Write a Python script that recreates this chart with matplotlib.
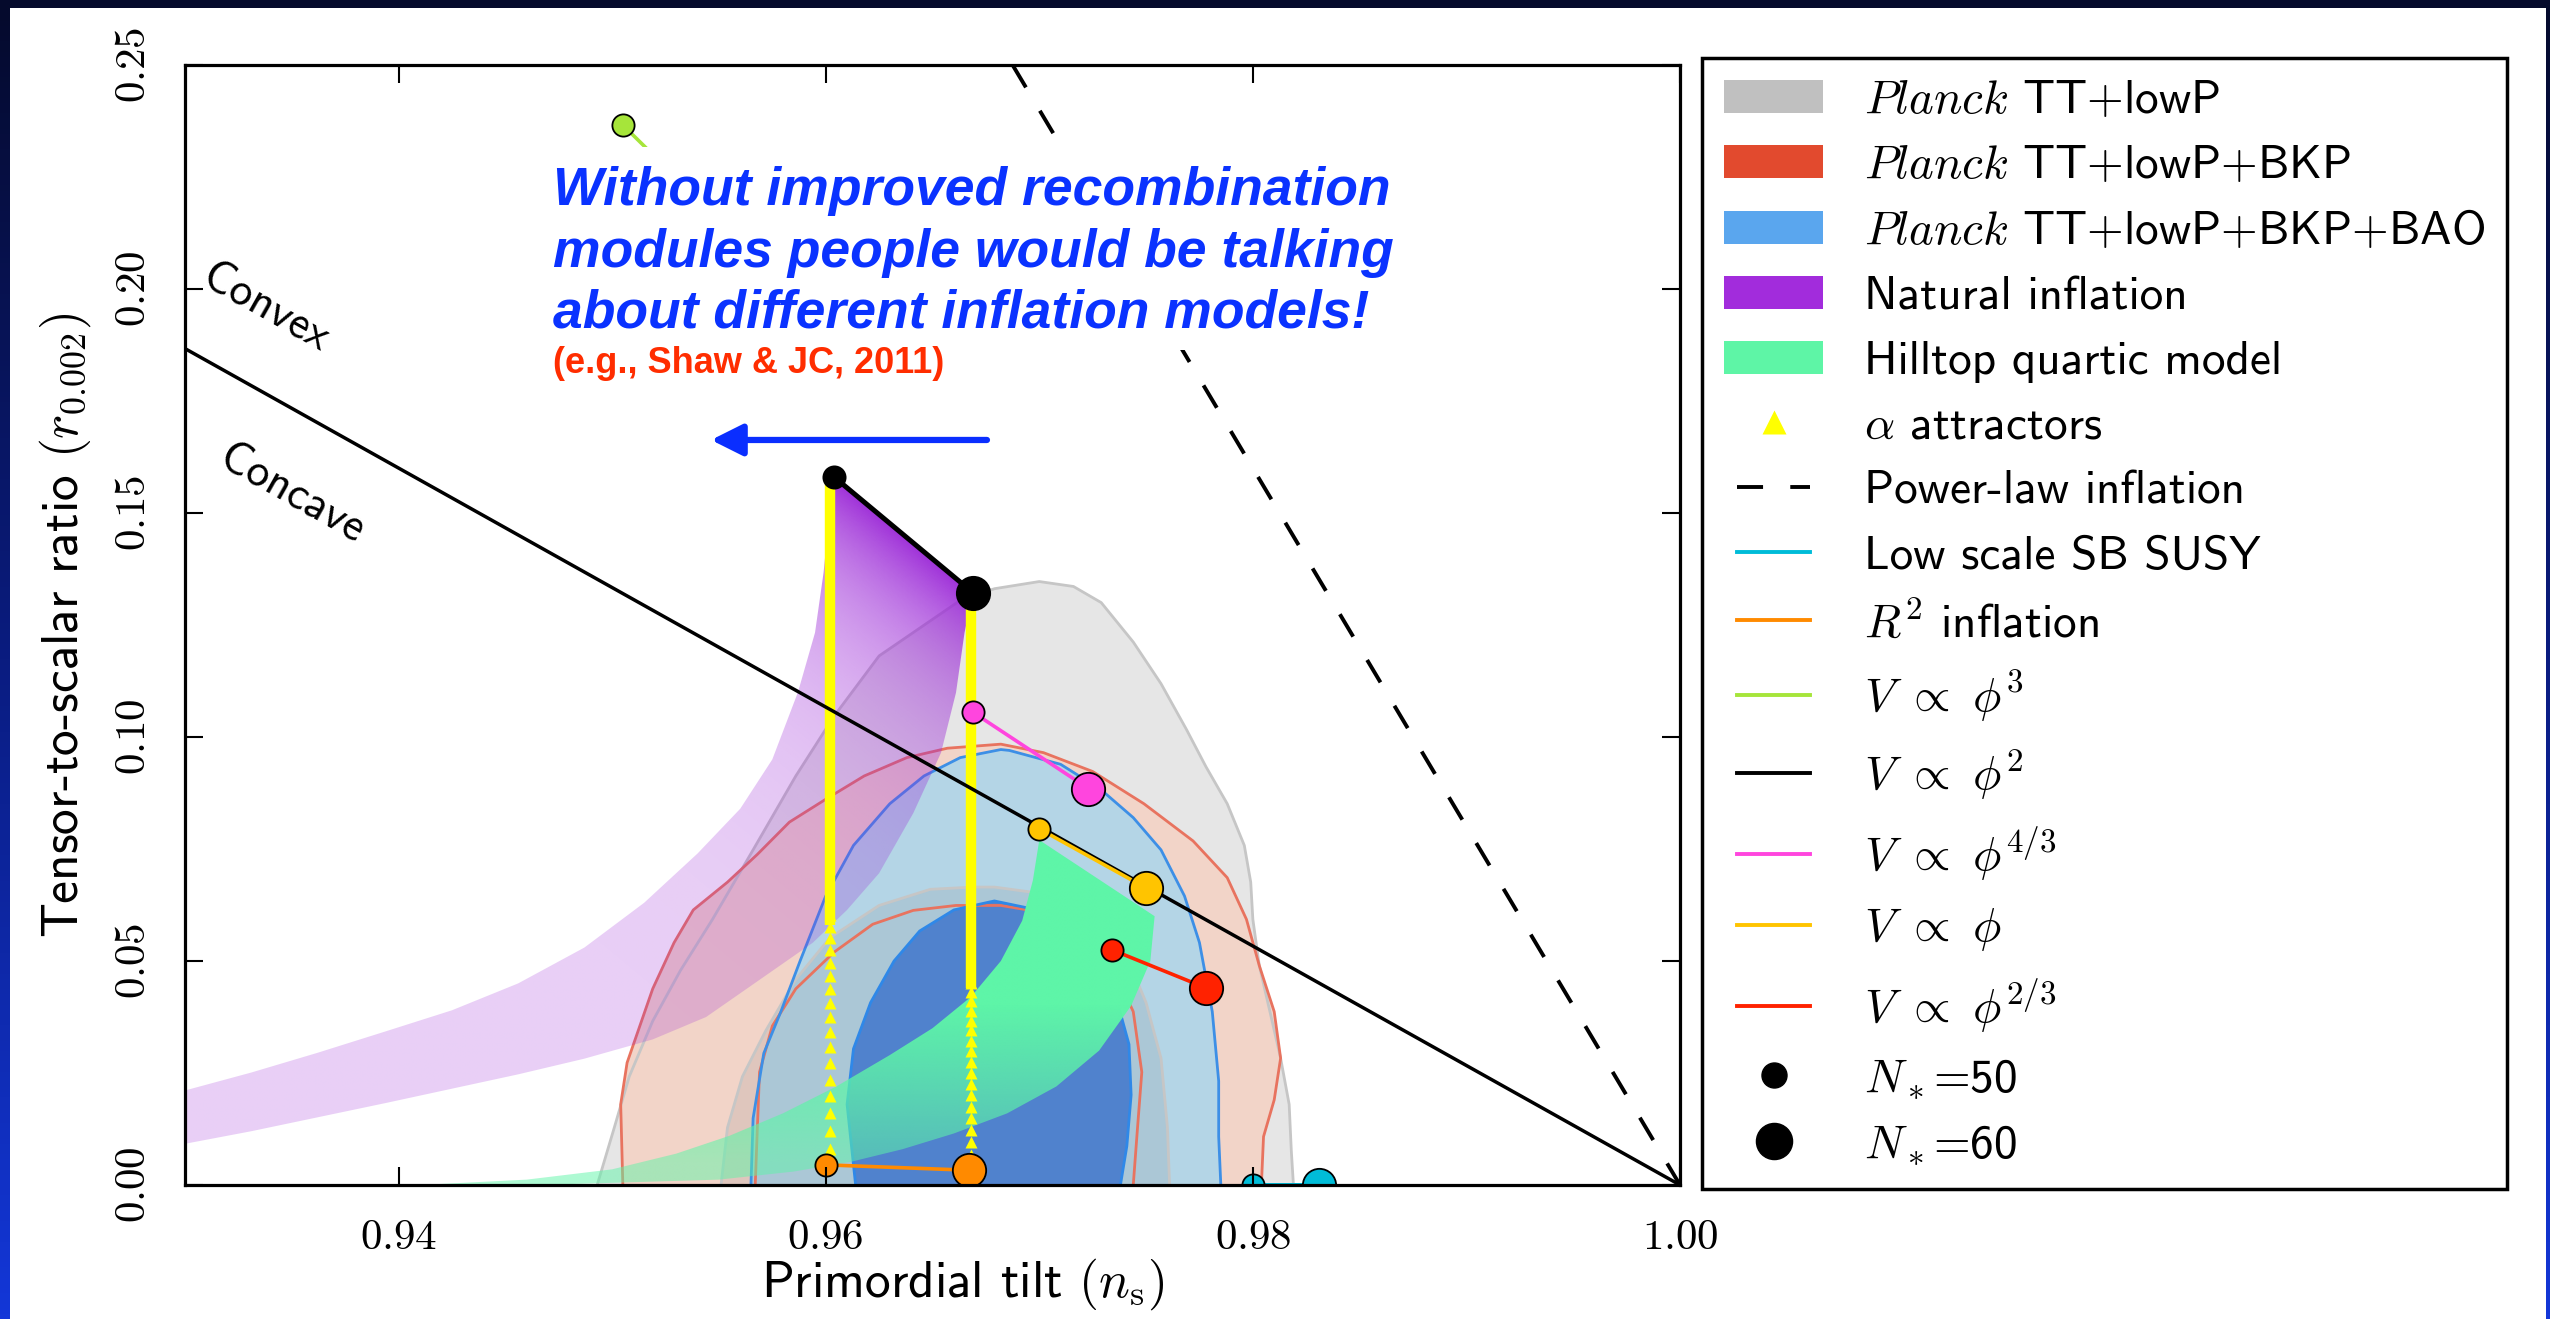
import numpy as np
import matplotlib
matplotlib.use("Agg")
import matplotlib.pyplot as plt
from matplotlib.patches import Polygon, Rectangle, Patch
from matplotlib.lines import Line2D
from matplotlib.legend_handler import HandlerLine2D
from matplotlib.colors import LinearSegmentedColormap, to_rgb

plt.rcParams["mathtext.fontset"] = "cm"
plt.rcParams["axes.unicode_minus"] = False

# ------------------------------------------------------------------ data
x_ticks = [0.94, 0.96, 0.98, 1.00]
y_ticks = [0.00, 0.05, 0.10, 0.15, 0.20, 0.25]

# Planck TT+lowP (grey) 95% / 68% boundaries
gray95_ns = [0.9493, 0.9501, 0.9508, 0.9519, 0.9532, 0.9547, 0.9566, 0.9586, 0.9604, 0.9625,
             0.9663, 0.9679, 0.9700, 0.9716, 0.9729, 0.9744, 0.9757, 0.9769, 0.9778, 0.9788,
             0.9796, 0.9799, 0.9800, 0.9803, 0.9808, 0.9813, 0.9817, 0.9818, 0.9819]
gray95_r = [0.0, 0.0128, 0.0242, 0.0366, 0.0479, 0.0593, 0.0748, 0.0913, 0.1047, 0.1181,
            0.1305, 0.1331, 0.1347, 0.1336, 0.1300, 0.1212, 0.1119, 0.1016, 0.0934, 0.0851,
            0.0758, 0.0676, 0.0593, 0.0490, 0.0387, 0.0283, 0.0180, 0.0077, 0.0]
gray68_ns = [0.9551, 0.9554, 0.9561, 0.9572, 0.9586, 0.9602, 0.9625, 0.9649, 0.9669, 0.9679,
             0.9702, 0.9725, 0.9741, 0.9750, 0.9757, 0.9760, 0.9761]
gray68_r = [0.0, 0.0128, 0.0242, 0.0345, 0.0459, 0.0552, 0.0624, 0.0660, 0.0665, 0.0665,
            0.0650, 0.0603, 0.0510, 0.0407, 0.0283, 0.0128, 0.0]

# Planck TT+lowP+BKP (red)
red95_ns = [0.9505, 0.9504, 0.9507, 0.9519, 0.9529, 0.9538, 0.9554, 0.9568, 0.9583, 0.9600,
            0.9618, 0.9638, 0.9657, 0.9682, 0.9702, 0.9725, 0.9749, 0.9772, 0.9788, 0.9797,
            0.9803, 0.9810, 0.9813, 0.9810, 0.9805, 0.9804]
red95_r = [0.0, 0.0180, 0.0273, 0.0438, 0.0541, 0.0614, 0.0676, 0.0738, 0.0810, 0.0861,
           0.0913, 0.0954, 0.0975, 0.0984, 0.0965, 0.0923, 0.0851, 0.0768, 0.0686, 0.0593,
           0.0490, 0.0387, 0.0283, 0.0190, 0.0108, 0.0]
red68_ns = [0.9567, 0.9568, 0.9569, 0.9575, 0.9586, 0.9604, 0.9622, 0.9641, 0.9661, 0.9682,
            0.9702, 0.9722, 0.9736, 0.9744, 0.9748, 0.9746, 0.9744]
red68_r = [0.0, 0.0128, 0.0252, 0.0355, 0.0438, 0.0520, 0.0582, 0.0613, 0.0624, 0.0624,
           0.0608, 0.0552, 0.0469, 0.0387, 0.0252, 0.0128, 0.0]

# Planck TT+lowP+BKP+BAO (blue)
blue95_ns = [0.9565, 0.9566, 0.9571, 0.9579, 0.9588, 0.9600, 0.9613, 0.9630, 0.9646, 0.9663,
             0.9682, 0.9686, 0.9710, 0.9729, 0.9744, 0.9757, 0.9768, 0.9775, 0.9781, 0.9784,
             0.9784, 0.9785]
blue95_r = [0.0, 0.0149, 0.0294, 0.0387, 0.0500, 0.0645, 0.0758, 0.0851, 0.0913, 0.0954,
            0.0972, 0.0970, 0.0939, 0.0882, 0.0820, 0.0748, 0.0645, 0.0541, 0.0387, 0.0232,
            0.0108, 0.0]
blue68_ns = [0.9614, 0.9610, 0.9613, 0.9621, 0.9632, 0.9644, 0.9660, 0.9677, 0.9679, 0.9694,
             0.9710, 0.9725, 0.9736, 0.9742, 0.9743, 0.9741, 0.9738]
blue68_r = [0.0, 0.0180, 0.0304, 0.0407, 0.0500, 0.0567, 0.0614, 0.0632, 0.0634, 0.0619,
            0.0583, 0.0500, 0.0418, 0.0314, 0.0201, 0.0087, 0.0]

# Natural inflation band (left edge bottom->top, right edge top->bottom)
natural_left_ns = [0.9300, 0.9331, 0.9362, 0.9394, 0.9425, 0.9456, 0.9487, 0.9515, 0.9540,
                   0.9560, 0.9575, 0.9587, 0.9595, 0.9599, 0.9602, 0.9604]
natural_left_r = [0.0211, 0.0251, 0.0295, 0.0343, 0.0390, 0.0450, 0.0530, 0.0630, 0.0740,
                  0.0840, 0.0950, 0.1100, 0.1233, 0.1367, 0.1512, 0.1580]
natural_right_ns = [0.9669, 0.9665, 0.9661, 0.9654, 0.9641, 0.9625, 0.9610, 0.9594, 0.9563,
                    0.9544, 0.9519, 0.9487, 0.9456, 0.9425, 0.9394, 0.9362, 0.9331, 0.9300]
natural_right_r = [0.1322, 0.1233, 0.1099, 0.0965, 0.0830, 0.0696, 0.0614, 0.0541, 0.0438,
                   0.0375, 0.0325, 0.0282, 0.0247, 0.0215, 0.0183, 0.0151, 0.0120, 0.0092]

# Hilltop quartic band (upper edge bottom->top, lower edge top->bottom)
hilltop_upper_ns = [0.9410, 0.9460, 0.9500, 0.9530, 0.9555, 0.9580, 0.9605, 0.9630, 0.9650,
                    0.9668, 0.9682, 0.9692, 0.9697, 0.9700]
hilltop_upper_r = [0.0, 0.0012, 0.0035, 0.0070, 0.0110, 0.0160, 0.0220, 0.0290, 0.0350,
                   0.0420, 0.0500, 0.0590, 0.0680, 0.0770]
hilltop_lower_ns = [0.9754, 0.9752, 0.9743, 0.9728, 0.9708, 0.9685, 0.9660, 0.9636, 0.9612,
                    0.9585, 0.9550, 0.9480, 0.9410]
hilltop_lower_r = [0.0600, 0.0500, 0.0400, 0.0300, 0.0220, 0.0160, 0.0115, 0.0080, 0.0052,
                   0.0030, 0.0012, 0.0002, 0.0]

# alpha attractors: individually visible points and the dense upper part
alpha_ns = [0.9602, 0.9668]
alpha_r50 = [0.0080, 0.0120, 0.0160, 0.0198, 0.0235, 0.0272, 0.0307, 0.0341, 0.0374, 0.0406,
             0.0437, 0.0467, 0.0496, 0.0524, 0.0551, 0.0577, 0.0602]
alpha_r60 = [0.0068, 0.0095, 0.0122, 0.0149, 0.0175, 0.0201, 0.0226, 0.0251, 0.0275, 0.0299,
             0.0322, 0.0345, 0.0367, 0.0389, 0.0410, 0.0431, 0.0451]
alpha_dense_start = [0.0580, 0.0440]

# model predictions (N*=50, N*=60)
model_keys = ["R2", "phi3", "phi2", "phi43", "phi1", "phi23", "susy"]
model_ns50 = [0.9600, 0.9505, 0.9604, 0.9669, 0.9700, 0.9734, 0.9800]
model_r50 = [0.0045, 0.2366, 0.1580, 0.1055, 0.0795, 0.0525, 0.0000]
model_ns60 = [0.9667, 0.9583, 0.9669, 0.9723, 0.9750, 0.9778, 0.9831]
model_r60 = [0.0033, 0.2000, 0.1322, 0.0885, 0.0663, 0.0440, 0.0000]

# straight reference lines
convex_ns = [0.93, 1.00]
convex_r = [0.1867, 0.0]
powerlaw_ns = [0.96875, 1.00]
powerlaw_r = [0.25, 0.0]

legend_labels = [r"$\mathit{Planck}$ TT+lowP", r"$\mathit{Planck}$ TT+lowP+BKP",
                 r"$\mathit{Planck}$ TT+lowP+BKP+BAO", "Natural inflation",
                 "Hilltop quartic model", r"$\alpha$ attractors", "Power-law inflation",
                 "Low scale SB SUSY", r"$R^2$ inflation", r"$V\ \propto\ \phi^3$",
                 r"$V\ \propto\ \phi^2$", r"$V\ \propto\ \phi^{4/3}$", r"$V\ \propto\ \phi$",
                 r"$V\ \propto\ \phi^{2/3}$", r"$N_*$=50", r"$N_*$=60"]

note_lines = ["Without improved recombination", "modules people would be talking",
              "about different inflation models!"]
note_ref = "(e.g., Shaw & JC, 2011)"

# ------------------------------------------------------------------ figure
fig = plt.figure(figsize=(25.5, 13.19), dpi=100)

bg = fig.add_axes([0, 0, 1, 1], zorder=-10)
bg_cmap = LinearSegmentedColormap.from_list("bg", ["#050a2c", "#0a1c80", "#1337d8"])
bg.imshow(np.linspace(0, 1, 256)[:, None], aspect="auto", cmap=bg_cmap,
          extent=(0, 1, 0, 1), origin="upper")
bg.add_patch(Rectangle((10 / 2550, 0), (2546 - 10) / 2550, (1319 - 8) / 1319,
                       transform=bg.transAxes, facecolor="white", edgecolor="none"))
bg.set_xlim(0, 1); bg.set_ylim(0, 1)
bg.axis("off")

ax = fig.add_axes([185 / 2550, 1 - 1185 / 1319, (1680 - 185) / 2550, (1185 - 65) / 1319])
ax.set_xlim(0.93, 1.00)
ax.set_ylim(0.0, 0.25)
ax.patch.set_alpha(0)

# contour fills
ax.fill(gray95_ns, gray95_r, facecolor="#e6e6e6", edgecolor="none", zorder=1.0)
ax.fill(red95_ns, red95_r, facecolor="#f2d4c8", edgecolor="none", zorder=1.1)
ax.fill(blue95_ns, blue95_r, facecolor="#b4d5e6", edgecolor="none", zorder=1.2)
ax.fill(gray68_ns, gray68_r, facecolor="#78787f", alpha=0.15, edgecolor="none", zorder=1.3)
ax.fill(blue68_ns, blue68_r, facecolor="#5082cd", edgecolor="none", zorder=1.4)
# contour lines
ax.plot(gray95_ns, gray95_r, color="#c6c6c6", lw=2.0, zorder=1.5)
ax.plot(gray68_ns, gray68_r, color="#c6c6c6", lw=2.0, zorder=1.5)
ax.plot(red95_ns, red95_r, color="#e8735f", lw=2.0, zorder=1.6)
ax.plot(red68_ns, red68_r, color="#e8735f", lw=2.0, zorder=1.6)
ax.plot(blue95_ns, blue95_r, color="#3d8fe6", lw=2.0, zorder=1.7)
ax.plot(blue68_ns, blue68_r, color="#2f88e8", lw=2.0, zorder=1.7)

# natural inflation band with gradient
nat_xy = np.column_stack([natural_left_ns + natural_right_ns, natural_left_r + natural_right_r])
nat_poly = Polygon(nat_xy, closed=True, facecolor="none", edgecolor="none", transform=ax.transData)
ax.add_patch(nat_poly)
gx = np.linspace(0.93, 0.968, 500)
gy = np.linspace(0.0, 0.16, 500)
GX, GY = np.meshgrid(gx, gy)
P = ax.transData.transform(np.column_stack([GX.ravel(), GY.ravel()]))
pa = ax.transData.transform((model_ns50[2], model_r50[2]))
pb = ax.transData.transform((model_ns60[2], model_r60[2]))
u = (pb - pa) / np.linalg.norm(pb - pa)
nrm = np.array([-u[1], u[0]])
dist = np.abs((P - pa) @ nrm).reshape(GX.shape)
img = np.zeros(GX.shape + (4,))
img[..., :3] = to_rgb("#9b28d7")
img[..., 3] = 0.22 + 0.74 * np.exp(-dist / 95.0)
im = ax.imshow(img, extent=(0.93, 0.968, 0.0, 0.16), origin="lower", aspect="auto",
               interpolation="bilinear", zorder=3)
im.set_clip_path(nat_poly)

# hilltop band
hill_xy = np.column_stack([hilltop_upper_ns + hilltop_lower_ns, hilltop_upper_r + hilltop_lower_r])
hill_poly = Polygon(hill_xy, closed=True, facecolor="none", edgecolor="none", transform=ax.transData)
ax.add_patch(hill_poly)
hx = np.linspace(0.94, 0.976, 300)
hy = np.linspace(0.0, 0.078, 300)
HX, HY = np.meshgrid(hx, hy)
himg = np.zeros(HX.shape + (4,))
himg[..., :3] = to_rgb("#5ef5a8")
himg[..., 3] = 0.5 + 0.5 * np.clip((HY - 0.005) / 0.035, 0, 1)
him = ax.imshow(himg, extent=(0.94, 0.976, 0.0, 0.078), origin="lower", aspect="auto",
                interpolation="bilinear", zorder=3.5)
him.set_clip_path(hill_poly)
ax.set_xlim(0.93, 1.00)
ax.set_ylim(0.0, 0.25)

# alpha attractors
for xs, rs, r0, rtop in [(alpha_ns[0], alpha_r50, alpha_dense_start[0], model_r50[2]),
                         (alpha_ns[1], alpha_r60, alpha_dense_start[1], model_r60[2])]:
    ax.plot([xs, xs], [r0, rtop], color="#ffff00", lw=7.5, solid_capstyle="butt", zorder=4.5)
    ax.plot([xs] * len(rs), rs, ls="none", marker="^", ms=9, color="#ffff00",
            mec="none", zorder=4.5)

# reference lines
ax.plot(convex_ns, convex_r, color="black", lw=2.5, zorder=5)
ax.plot(powerlaw_ns, powerlaw_r, color="black", lw=2.8, ls=(0, (6.7, 7)), zorder=5)

# model lines and points
model_colors = {"R2": "#ff8a00", "phi3": "#a6e53a", "phi2": "#000000", "phi43": "#ff45de",
                "phi1": "#ffc400", "phi23": "#ff2200", "susy": "#00bcd8"}
for i, k in enumerate(model_keys):
    c = model_colors[k]
    lw = 3.6 if k in ("phi2", "susy") else 2.6
    ax.plot([model_ns50[i], model_ns60[i]], [model_r50[i], model_r60[i]], color=c, lw=lw, zorder=6)
    ax.plot(model_ns50[i], model_r50[i], ls="none", marker="o", ms=16, color=c, mec="black",
            mew=1.3, zorder=7)
    ax.plot(model_ns60[i], model_r60[i], ls="none", marker="o", ms=24, color=c, mec="black",
            mew=1.3, zorder=7)

# Convex / Concave labels
ax.text(0.93375, 0.1957, "Convex", rotation=-29.5, rotation_mode="anchor", ha="center",
        va="center", fontfamily="cmss10", fontsize=33, zorder=6)
ax.text(0.93500, 0.1540, "Concave", rotation=-29.5, rotation_mode="anchor", ha="center",
        va="center", fontfamily="cmss10", fontsize=33, zorder=6)

# slide annotation (white box hides the plot underneath)
ax.add_patch(Rectangle((0.9466, 0.1864), 0.9875 - 0.9466, 0.2317 - 0.1864,
                       facecolor="white", edgecolor="none", zorder=8))
for txt, yb in zip(note_lines, [0.21875, 0.2049, 0.1913]):
    ax.text(0.94723, yb, txt, ha="left", va="baseline", color="#0a32ff",
            fontfamily="Liberation Sans", fontweight="bold", fontstyle="italic",
            fontsize=38.5, zorder=9)
ax.text(0.94723, 0.1812, note_ref, ha="left", va="baseline", color="#ff2d00",
        fontfamily="Liberation Sans", fontweight="bold", fontsize=26, zorder=9)
ax.annotate("", xy=(0.95463, 0.1663), xytext=(0.96755, 0.1663),
            arrowprops=dict(arrowstyle="-|>", color="#0a2eff", lw=4.5, mutation_scale=48,
                            shrinkA=0, shrinkB=0), zorder=9)

# axes styling
for sp in ax.spines.values():
    sp.set_linewidth(2.3)
    sp.set_zorder(20)
ax.xaxis.set_zorder(20)
ax.yaxis.set_zorder(20)
ax.tick_params(direction="in", length=13, width=1.5, top=True, right=True, labelsize=31, pad=22)
ax.set_xticks(x_ticks, [f"${t:.2f}$" for t in x_ticks])
ax.set_yticks(y_ticks, [f"${t:.2f}$" for t in y_ticks], rotation=90, va="center")
ax.set_xlabel(r"Primordial tilt $(n_\mathrm{s})$", fontfamily="cmss10", fontsize=37)
ax.xaxis.set_label_coords(0.52, -0.064)
ax.set_ylabel(r"Tensor-to-scalar ratio $(r_{0.002})$", fontfamily="cmss10", fontsize=37,
              labelpad=14)

# legend
class CenteredLine(HandlerLine2D):
    def create_artists(self, legend, orig_handle, xdescent, ydescent, width, height,
                       fontsize, trans):
        s = 0.13 * width
        return super().create_artists(legend, orig_handle, xdescent - s, ydescent,
                                      width - 2 * s, height, fontsize, trans)

handles = [Patch(facecolor="#c0c0c0", edgecolor="none"),
           Patch(facecolor="#e24a2e", edgecolor="none"),
           Patch(facecolor="#5aa6ee", edgecolor="none"),
           Patch(facecolor="#a22cdc", edgecolor="none"),
           Patch(facecolor="#5ef5a6", edgecolor="none"),
           Line2D([], [], ls="none", marker="^", ms=17, color="#ffff00", mec="none"),
           Line2D([], [], color="black", lw=2.8, ls=(0, (6.7, 7))),
           Line2D([], [], color=model_colors["susy"], lw=2.8),
           Line2D([], [], color=model_colors["R2"], lw=2.8),
           Line2D([], [], color=model_colors["phi3"], lw=2.8),
           Line2D([], [], color=model_colors["phi2"], lw=2.8),
           Line2D([], [], color=model_colors["phi43"], lw=2.8),
           Line2D([], [], color=model_colors["phi1"], lw=2.8),
           Line2D([], [], color=model_colors["phi23"], lw=2.8),
           Line2D([], [], ls="none", marker="o", ms=18, color="black"),
           Line2D([], [], ls="none", marker="o", ms=26, color="black")]

leg = fig.legend(handles, legend_labels, loc="upper left",
                 bbox_to_anchor=(1702 / 2550, 1 - 58 / 1319, (2507 - 1702) / 2550, 0),
                 bbox_transform=fig.transFigure, mode="expand", ncol=1,
                 frameon=True, fancybox=False, edgecolor="black", framealpha=1,
                 prop={"family": "cmss10", "size": 34}, labelspacing=0.485,
                 handlelength=2.1, handleheight=0.7, handletextpad=0.87,
                 borderpad=0.47, borderaxespad=0, numpoints=1,
                 handler_map={Line2D: CenteredLine()})
leg.get_frame().set_linewidth(2.5)

fig.savefig("out.png", dpi=100)
